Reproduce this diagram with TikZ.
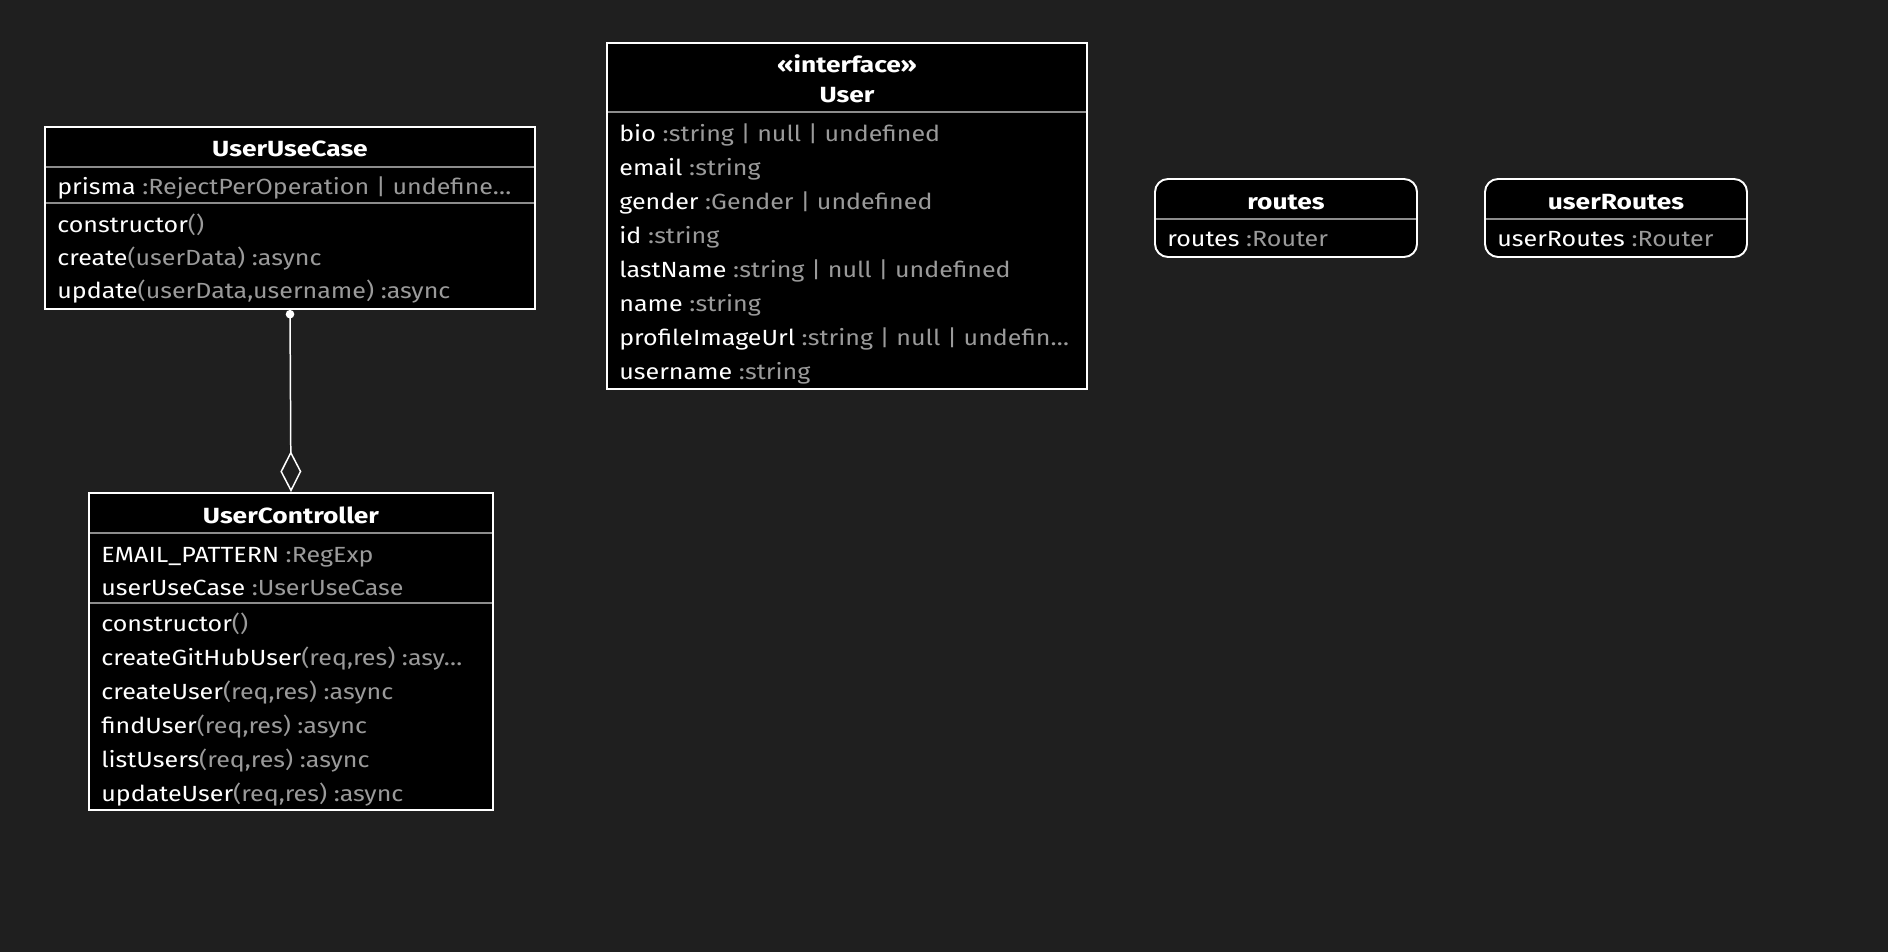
\documentclass[tikz,border=0pt]{standalone}
\usepackage{fontspec}
\setmainfont{Fira Sans}[FakeStretch=1.14, BoldFeatures={FakeStretch=1.2}]
\usepackage{tikz}
\usetikzlibrary{arrows.meta,positioning,fit,calc}

\definecolor{canvas}{HTML}{1F1F1F}
\definecolor{typegray}{HTML}{9A9A9A}
\definecolor{sepgray}{HTML}{8C8C8C}
\newcommand{\memtype}[1]{\textcolor{typegray}{#1}}

\begin{document}
\begin{tikzpicture}[
		x=0.02cm,y=-0.02cm,
		every node/.style={font=\fontsize{12.5}{15}\selectfont},
		classbox/.style={draw=white, fill=black, line width=1.1pt, inner sep=0pt},
		sepline/.style={draw=sepgray, line width=1pt},
		title/.style={font=\fontsize{12.5}{15}\selectfont\bfseries, text=white, anchor=base, inner sep=0pt},
		member/.style={text=white, anchor=base west, inner sep=0pt},
		aggr/.style={draw=white, line width=0.85pt,
			{Circle[length=0.17cm]}-{Diamond[open,length=0.82cm,width=0.42cm]}}
		]
		
		% background
		\fill[canvas] (0,0) rectangle (1888,952);
		
		% =========================
		% UserUseCase
		% =========================
		\node[classbox, fit={(45,127) (535,309)}] (uuc) {};
		\draw[sepline] (46,167) -- (534,167);
		\draw[sepline] (46,203) -- (534,203);
		\node[title] (uuc-title) at (290,157) {UserUseCase};
		\node[member] (uuc-prisma) at (57,195) {prisma \memtype{:RejectPerOperation | undefine…}};
		\node[member] (uuc-ctor) at (57,233) {constructor\memtype{()}};
		\node[member] (uuc-create) at (57,266) {create\memtype{(userData) :async}};
		\node[member] (uuc-update) at (57,299) {update\memtype{(userData,username) :async}};
		
		% =========================
		% User (interface)
		% =========================
		\node[classbox, fit={(607,43) (1087,389)}] (user) {};
		\draw[sepline] (608,112) -- (1086,112);
		\node[title] (user-stereo) at (847,73) {«interface»};
		\node[title] (user-title) at (847,103) {User};
		\node[member] (user-bio) at (619,141.5) {bio \memtype{:string | null | undefined}};
		\node[member] (user-email) at (619,175.5) {email \memtype{:string}};
		\node[member] (user-gender) at (619,209.5) {gender \memtype{:Gender | undefined}};
		\node[member] (user-id) at (619,243.5) {id \memtype{:string}};
		\node[member] (user-lastname) at (619,277.5) {lastName \memtype{:string | null | undefined}};
		\node[member] (user-name) at (619,311.5) {name \memtype{:string}};
		\node[member] (user-image) at (619,345.5) {profileImageUrl \memtype{:string | null | undefin…}};
		\node[member] (user-username) at (619,379.5) {username \memtype{:string}};
		
		% =========================
		% routes / userRoutes
		% =========================
		\node[classbox, rounded corners=0.26cm, fit={(1155,179) (1417,257)}] (routes) {};
		\draw[sepline] (1156,219) -- (1416,219);
		\node[title] (routes-title) at (1286,210) {routes};
		\node[member] (routes-router) at (1167,247) {routes \memtype{:Router}};
		
		\node[classbox, rounded corners=0.26cm, fit={(1485,179) (1747,257)}] (uroutes) {};
		\draw[sepline] (1486,219) -- (1746,219);
		\node[title] (uroutes-title) at (1616,210) {userRoutes};
		\node[member] (uroutes-router) at (1497,247) {userRoutes \memtype{:Router}};
		
		% =========================
		% UserController
		% =========================
		\node[classbox, fit={(89,493) (493,810)}] (uc) {};
		\draw[sepline] (90,533) -- (492,533);
		\draw[sepline] (90,603) -- (492,603);
		\node[title] (uc-title) at (291,523) {UserController};
		\node[member] (uc-pattern) at (101,562) {EMAIL\_PATTERN \memtype{:RegExp}};
		\node[member] (uc-usecase) at (101,595) {userUseCase \memtype{:UserUseCase}};
		\node[member] (uc-ctor) at (101,631) {constructor\memtype{()}};
		\node[member] (uc-github) at (101,665) {createGitHubUser\memtype{(req,res) :asy…}};
		\node[member] (uc-create) at (101,699) {createUser\memtype{(req,res) :async}};
		\node[member] (uc-find) at (101,733) {findUser\memtype{(req,res) :async}};
		\node[member] (uc-list) at (101,767) {listUsers\memtype{(req,res) :async}};
		\node[member] (uc-update) at (101,801) {updateUser\memtype{(req,res) :async}};
		
		% aggregation
		\draw[aggr] (uuc.south) -- (uc.north);
	\end{tikzpicture}
\end{document}
